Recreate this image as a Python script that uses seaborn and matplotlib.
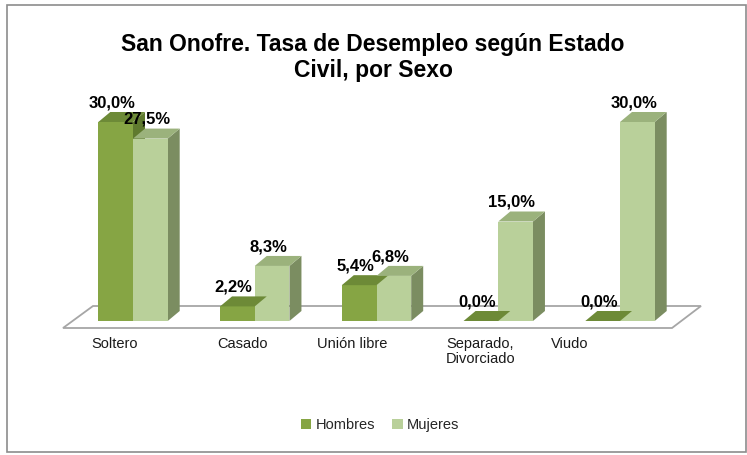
import matplotlib
matplotlib.use("Agg")
import matplotlib.pyplot as plt
from matplotlib.patches import Polygon, Rectangle
import seaborn as sns
import pandas as pd
import numpy as np

categories = ["Soltero", "Casado", "Unión libre", "Separado,\nDivorciado", "Viudo"]
hombres = [30.0, 2.2, 5.4, 0.0, 0.0]
mujeres = [27.5, 8.3, 6.8, 15.0, 30.0]
series = ["Hombres", "Mujeres"]
title = "San Onofre. Tasa de Desempleo según Estado\nCivil, por Sexo"

front = {"Hombres": "#86a544", "Mujeres": "#b9d09a"}
topc = {"Hombres": "#6d8a37", "Mujeres": "#9bb27c"}
sidec = {"Hombres": "#5f7a2f", "Mujeres": "#7b8d61"}

df = pd.DataFrame({
    "cat": categories * 2,
    "val": hombres + mujeres,
    "sexo": [series[0]] * len(categories) + [series[1]] * len(categories),
})

sns.set_style("white")
plt.rcParams["font.family"] = ["Liberation Sans", "DejaVu Sans"]

W, H = 747, 455
fig = plt.figure(figsize=(W / 100, H / 100), dpi=100)

# chart border
fig.patches.append(Rectangle((7 / W, 1 - 452 / H), 739 / W, 447 / H, transform=fig.transFigure,
                             fill=False, edgecolor="#8c8c8c", linewidth=1.2, zorder=0))

# axes placement in pixels
base_y = 321
ymax = 33.0
px_per_unit = 199 / 30
ax_left, ax_right = 60, 705
ax_h = ymax * px_per_unit
ax = fig.add_axes([ax_left / W, (H - base_y) / H, (ax_right - ax_left) / W, ax_h / H])
ax.set_zorder(2)

sns.barplot(data=df, x="cat", y="val", hue="sexo", hue_order=series, order=categories,
            palette=front, width=0.57, gap=0, saturation=1, ax=ax, legend=False,
            edgecolor="none", linewidth=0, zorder=3)

spacing = 121.75
first_c = 133
ax.set_xlim((ax_left - first_c) / spacing, (ax_right - first_c) / spacing)
ax.set_ylim(0, ymax)
ax.axis("off")

# depth offsets in data units
dx = 12 / spacing
dy = 10 / px_per_unit

# floor (drawn in figure pixel space below bars)
floor_ax = fig.add_axes([0, 0, 1, 1], zorder=1)
floor_ax.set_xlim(0, W)
floor_ax.set_ylim(H, 0)
floor_ax.axis("off")
floor_ax.add_patch(Polygon([(63, 328), (672, 328), (701, 306), (93, 306)], closed=True,
                           facecolor="white", edgecolor="#a6a6a6", linewidth=1.3))

# 3D faces for each bar
n = len(categories)
for i, bar in enumerate(ax.patches[: 2 * n]):
    s = series[i // n]
    x0 = bar.get_x()
    w = bar.get_width()
    h = bar.get_height()
    x1 = x0 + w
    ax.add_patch(Polygon([(x0, h), (x1, h), (x1 + dx, h + dy), (x0 + dx, h + dy)],
                         closed=True, facecolor=topc[s], edgecolor="none", zorder=3))
    ax.add_patch(Polygon([(x1, 0), (x1 + dx, dy), (x1 + dx, h + dy), (x1, h)],
                         closed=True, facecolor=sidec[s], edgecolor="none", zorder=2.5))
    label = f"{h:.1f}%".replace(".", ",")
    ax.text(x0 + w / 2 - 0.03, h + dy + 0.25, label, ha="center", va="bottom",
            fontsize=12, fontweight="bold", color="black", zorder=5)

# category labels
label_x = [115, 243, 352, 446, 570]
for cx, cat in zip(label_x, categories):
    floor_ax.text(cx, 337, cat, ha="left" if "\n" in cat else "center",
                  va="top", fontsize=10.5, color="#1a1a1a", linespacing=1.05)

# title
fig.text(373 / W, 1 - 33 / H, title, ha="center", va="top", fontsize=16.5, fontweight="bold",
         linespacing=1.15, color="black")

# legend
handles = [Rectangle((0, 0), 1, 1, facecolor=front[s], edgecolor="none") for s in series]
fig.legend(handles, series, loc="center", bbox_to_anchor=(380 / W, 1 - 425 / H), ncol=2,
           frameon=False, fontsize=10.5, handlelength=0.7, handleheight=0.7,
           handletextpad=0.3, columnspacing=1.2)

fig.savefig("out.png", dpi=100)
